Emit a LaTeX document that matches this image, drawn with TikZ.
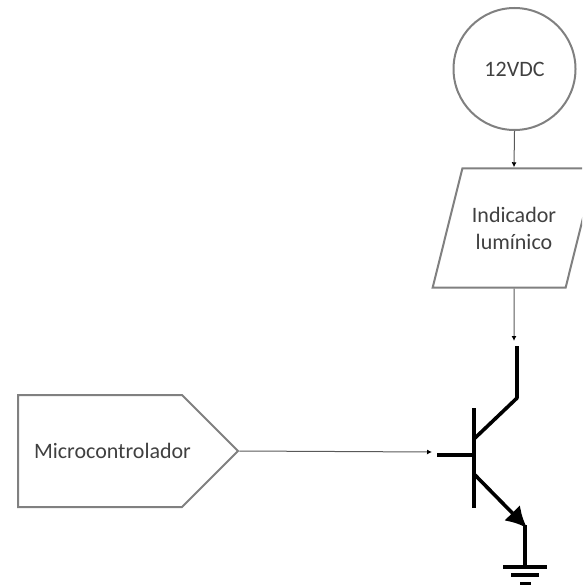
\documentclass[tikz,border=0pt]{standalone}
\usepackage{fontspec}
\setmainfont{Carlito}
\usetikzlibrary{arrows.meta,calc,positioning,shapes.geometric,shapes.symbols}
\tikzset{
  blockline/.style={draw=black!50,line width=2pt,inner sep=0pt,font=\fontsize{22}{27}\selectfont,text=black!75,align=center},
  wire/.style={draw=black!65,line width=1pt,-{Latex[length=5pt,width=5pt,black]}},
  bjt/.style={line width=3.6pt,black},
}
\begin{document}
\begin{tikzpicture}[x=1pt,y=-1pt]
  \useasboundingbox (0,0) rectangle (582,585);
  \clip (0,0) rectangle (582,585);
  % blocks
  \node[blockline,circle,minimum size=122pt] (fuente) at (514.5,69) {12VDC};
  \node[blockline,trapezium,trapezium left angle=76,trapezium right angle=104,inner xsep=9.5pt,inner ysep=38.5pt] (indicador) at (514,228) {Indicador\\lumínico};
  \node[blockline,signal,signal to=east,signal pointer angle=90,minimum width=220pt,minimum height=112pt,anchor=west] (micro) at (17,451) {};
  \node[blockline,draw=none] (microtxt) at (112.5,451) {Microcontrolador};
  % transistor
  \coordinate (colector) at (517,346);
  \coordinate (codo) at (517,398);
  \coordinate (base) at (437,455);
  \coordinate (barra) at (474,455);
  \coordinate (emisor) at (527,528);
  \coordinate (tierra) at (525,567);
  \draw[bjt] (474,408)--(474,508);
  \draw[bjt] (base)--(barra);
  \draw[bjt,line join=round] (colector)--(codo)--(475,438);
  \draw[bjt,-{Latex[length=21pt,width=22pt]}] (475,475)--(emisor);
  \draw[bjt] (525,525)--(tierra);
  \draw[bjt] (503,567)--(547,567);
  \draw[bjt] (511,575)--(539,575);
  \draw[bjt] (520,584)--(531,584);
  % connections
  \coordinate (entrada) at (432,452);
  \coordinate (salida) at (514,341);
  \draw[wire] (fuente.south)--(indicador.north);
  \draw[wire] (indicador.south)--(salida);
  \draw[wire] (micro.east)--(entrada);
\end{tikzpicture}
\end{document}
